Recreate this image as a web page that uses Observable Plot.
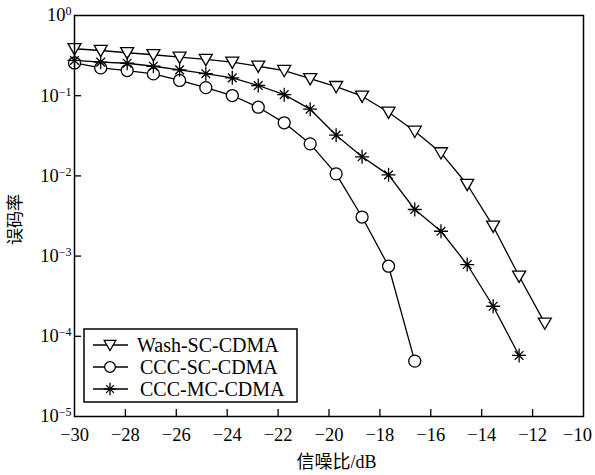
<!DOCTYPE html>
<html>
<head>
<meta charset="utf-8">
<script src="https://cdn.jsdelivr.net/npm/d3@7"></script>
<script src="https://cdn.jsdelivr.net/npm/@observablehq/plot@0.6"></script>
<style>
  html, body { margin: 0; padding: 0; background: white; }
  #chart { width: 595px; height: 475px; }
</style>
</head>
<body>
<div id="chart"></div>
<script>
// ---- data ----
const snr = [-30, -28.97, -27.93, -26.9, -25.87, -24.84, -23.8, -22.78, -21.76, -20.74,
             -19.72, -18.7, -17.66, -16.63, -15.6, -14.57, -13.55, -12.53, -11.52];
const washSc = [0.385, 0.366, 0.343, 0.324, 0.302, 0.283, 0.262, 0.233, 0.206, 0.163,
                0.130, 0.0986, 0.0622, 0.0360, 0.0194, 0.00781, 0.00236, 0.000561, 0.000146];
const cccSc = [0.256, 0.222, 0.206, 0.187, 0.155, 0.126, 0.1005, 0.0719, 0.0459, 0.0251,
               0.0106, 0.00307, 0.000748, 0.000049];
const cccMc = [0.275, 0.262, 0.254, 0.233, 0.210, 0.188, 0.167, 0.134, 0.103, 0.0679,
               0.0322, 0.0173, 0.0103, 0.00381, 0.00204, 0.000785, 0.000237, 0.0000577];
const seriesNames = ["Wash-SC-CDMA", "CCC-SC-CDMA", "CCC-MC-CDMA"];
const xTicks = [-30, -28, -26, -24, -22, -20, -18, -16, -14, -12, -10];
const yTicks = [1e-5, 1e-4, 1e-3, 1e-2, 1e-1, 1];
const xLabel = "信噪比/dB";
const yLabel = "误码率";

(function () {
// ---- symbols ----
const triDown = { draw(ctx, size) { const r = Math.sqrt(size / Math.PI);
  ctx.moveTo(-r, -r * 0.78); ctx.lineTo(r, -r * 0.78); ctx.lineTo(0, r * 0.95); ctx.closePath(); } };
const circ = { draw(ctx, size) { const r = Math.sqrt(size / Math.PI);
  ctx.moveTo(r, 0); ctx.arc(0, 0, r, 0, 2 * Math.PI); ctx.closePath(); } };
const star = { draw(ctx, size) { const r = Math.sqrt(size / Math.PI); const d = r * 0.62;
  ctx.moveTo(0, -r); ctx.lineTo(0, r); ctx.moveTo(-r, 0); ctx.lineTo(r, 0);
  ctx.moveTo(-d, -d); ctx.lineTo(d, d); ctx.moveTo(-d, d); ctx.lineTo(d, -d); } };
const symbols = [triDown, circ, star];
const radii = [6.5, 6, 7];

const tables = [washSc, cccSc, cccMc].map((vals, k) =>
  vals.map((v, i) => ({ x: snr[i], y: v, s: seriesNames[k] })));

const marks = [];
tables.forEach((t, k) => {
  marks.push(Plot.line(t, { x: "x", y: "y", stroke: "black", strokeWidth: 1.3 }));
});
tables.forEach((t, k) => {
  marks.push(Plot.dot(t, { x: "x", y: "y", symbol: symbols[k], r: radii[k],
    stroke: "black", strokeWidth: 1.3, fill: k === 2 ? "none" : "white" }));
});

const minus = "\u2212";
const svg = Plot.plot({
  width: 595, height: 475,
  marginLeft: 74, marginRight: 12, marginTop: 15, marginBottom: 59,
  style: { fontFamily: "'Liberation Serif', 'Times New Roman', serif", fontSize: "18.5px", background: "white", color: "black" },
  x: { domain: [-30, -10] },
  y: { type: "log", domain: [1e-5, 1] },
  marks: [
    ...marks,
    Plot.axisX(xTicks, { tickSize: 0, tickPadding: 11, label: null,
      tickFormat: d => (d < 0 ? minus : "") + Math.abs(d) }),
    Plot.axisX(xTicks.slice(1, -1), { tickSize: -7, tickFormat: () => "", label: null, strokeWidth: 1.3 }),
    Plot.axisY(yTicks, { tickSize: 0, tickPadding: 3, label: null,
      tickFormat: d => "10^" + Math.round(Math.log10(d)) }),
    Plot.axisY(yTicks.slice(1, -1), { tickSize: -7, tickFormat: () => "", label: null, strokeWidth: 1.3 }),
    Plot.frame({ stroke: "black", strokeWidth: 1.5 })
  ]
});

// superscript exponents on y tick labels
d3.select(svg).selectAll('[aria-label="y-axis tick label"] text').each(function () {
  const t = this.textContent;
  if (!t.startsWith("10^")) return;
  const e = +t.slice(3);
  const sel = d3.select(this);
  sel.text(null);
  sel.append("tspan").text("10");
  sel.append("tspan").attr("dy", "-0.5em").attr("font-size", "12px")
    .text((e < 0 ? minus : "") + Math.abs(e));
});
// keep the last x tick label inside the picture
d3.select(svg).selectAll('[aria-label="x-axis tick label"] text').each(function () {
  if (this.textContent === minus + "10") d3.select(this).attr("dx", -6);
});

const root = d3.select(svg);
const fX = svg.scale("x"), fY = svg.scale("y");
const pLeft = fX.range[0], pRight = fX.range[1];
const pTop = fY.range[1], pBottom = fY.range[0];

// axis titles
root.append("text")
  .attr("x", (pLeft + pRight) / 2 + 8).attr("y", 468)
  .attr("text-anchor", "middle").attr("font-size", "18px")
  .attr("font-family", "'Liberation Serif', 'Noto Sans CJK SC', serif")
  .text(xLabel);
root.append("text")
  .attr("transform", `translate(15,${(pTop + pBottom) / 2 + 4}) rotate(-90)`)
  .attr("text-anchor", "middle").attr("dy", "0.35em").attr("font-size", "17px")
  .attr("font-family", "'Noto Sans CJK SC', sans-serif")
  .text(yLabel);

// legend
const lg = root.append("g").attr("transform", `translate(${pLeft + 10},${pBottom - 87})`);
lg.append("rect").attr("width", 213).attr("height", 73)
  .attr("fill", "white").attr("stroke", "black").attr("stroke-width", 1.5);
seriesNames.forEach((name, k) => {
  const yy = 16 + k * 22;
  const g = lg.append("g").attr("transform", `translate(0,${yy})`);
  g.append("line").attr("x1", 9).attr("x2", 44).attr("y1", 0).attr("y2", 0)
    .attr("stroke", "black").attr("stroke-width", 1.3);
  g.append("path").attr("transform", "translate(26,0)")
    .attr("d", d3.symbol(symbols[k], Math.PI * radii[k] * radii[k] * 0.8)())
    .attr("fill", k === 2 ? "none" : "white").attr("stroke", "black").attr("stroke-width", 1.3);
  g.append("text").attr("x", k === 0 ? 53 : 56).attr("dy", "0.34em").attr("font-size", "20px")
    .attr("text-anchor", "start")
    .attr("font-family", "'Liberation Serif', serif").text(name);
});

document.getElementById("chart").appendChild(svg);
})();
</script>
</body>
</html>
